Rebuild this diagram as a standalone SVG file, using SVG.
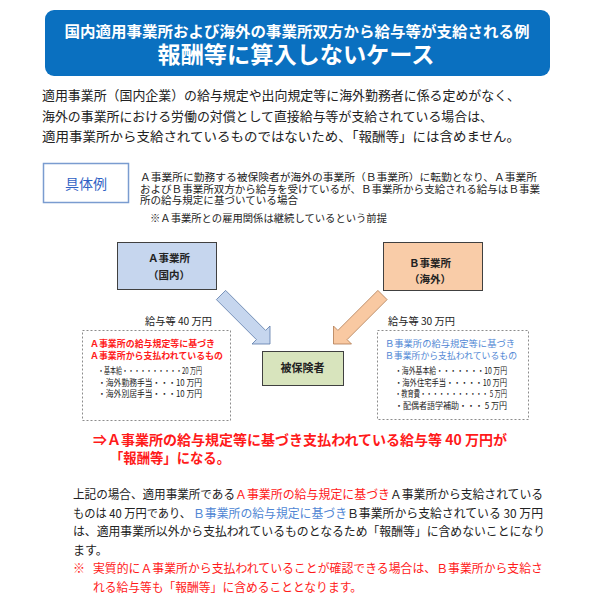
<svg xmlns="http://www.w3.org/2000/svg" width="595" height="600" viewBox="0 0 595 600">
<style>
text{font-family:"Noto Sans CJK JP","Noto Sans CJK SC",sans-serif;fill:#222}
.b{font-weight:bold}
.w{fill:#fff;font-weight:bold}
.red{fill:#ff1a1a}
.blue{fill:#4f86d4}
.box{stroke:#404040;stroke-width:1}
.dash{fill:#fff;stroke:#8c8c8c;stroke-width:1;stroke-dasharray:2 2}
.s9{font-size:8.6px}
.s10{font-size:10px}
.s12{font-size:12px}
</style>
<rect width="595" height="600" fill="#fff"/>
<g id="title">
<rect x="45" y="10" width="505" height="66" rx="9" fill="#0a70c0"/>
<text class="w" x="297" y="37" font-size="15" text-anchor="middle" textLength="465" lengthAdjust="spacingAndGlyphs">国内適用事業所および海外の事業所双方から給与等が支給される例</text>
<text class="w" x="296" y="63" font-size="23" text-anchor="middle" textLength="277" lengthAdjust="spacingAndGlyphs">報酬等に算入しないケース</text>
</g>
<g id="intro" font-size="13">
<text x="42" y="100" font-size="13" textLength="478" lengthAdjust="spacingAndGlyphs">適用事業所（国内企業）の給与規定や出向規定等に海外勤務者に係る定めがなく、</text>
<text x="42" y="121" font-size="13" textLength="451" lengthAdjust="spacingAndGlyphs">海外の事業所における労働の対償として直接給与等が支給されている場合は、</text>
<text x="42" y="141" font-size="13" textLength="478" lengthAdjust="spacingAndGlyphs">適用事業所から支給されているものではないため、「報酬等」には含めません。</text>
</g>
<g id="example">
<rect x="43.5" y="163.5" width="85" height="39" fill="#fff" stroke="#7a9cd0" stroke-width="1.5"/>
<text x="86" y="189" font-size="14" text-anchor="middle" style="fill:#2f62c4">具体例</text>
<text class="s10" x="140" y="181" textLength="397" lengthAdjust="spacingAndGlyphs">Ａ事業所に勤務する被保険者が海外の事業所（Ｂ事業所）に転勤となり、Ａ事業所</text>
<text class="s10" x="140" y="192.5" textLength="400" lengthAdjust="spacingAndGlyphs">およびＢ事業所双方から給与を受けているが、Ｂ事業所から支給される給与はＢ事業</text>
<text class="s10" x="140" y="204" textLength="158" lengthAdjust="spacingAndGlyphs">所の給与規定に基づいている場合</text>
<text class="s10" x="150" y="222" textLength="237" lengthAdjust="spacingAndGlyphs">※Ａ事業所との雇用関係は継続しているという前提</text>
</g>
<g id="connectors">
<polygon points="225.6,290.4 265.6,330.4 270,326 270,344 252,344 256.4,339.6 216.4,299.6" fill="#c6d6ee" stroke="#5a7aa8" stroke-width="0.8"/>
<polygon points="377.9,290.4 337.9,330.4 333.5,326 333.5,344 351.5,344 347.1,339.6 387.1,299.6" fill="#f9c9a2" stroke="#b07a50" stroke-width="0.8"/>
</g>
<g id="nodeA">
<rect class="box" x="117.5" y="242.5" width="99" height="47" fill="#c6d6ee"/>
<text class="b" x="169" y="262" font-size="10.5" text-anchor="middle">Ａ事業所</text>
<text class="b" x="169" y="279" font-size="10.5" text-anchor="middle">（国内）</text>
</g>
<g id="nodeB">
<rect class="box" x="383.5" y="242.5" width="99" height="48" fill="#f9cca8"/>
<text class="b" x="430" y="267" font-size="10.5" text-anchor="middle">Ｂ事業所</text>
<text class="b" x="430" y="283" font-size="10.5" text-anchor="middle">（海外）</text>
</g>
<g id="insured">
<rect class="box" x="262.5" y="351.5" width="81" height="34" fill="#d8e4bd"/>
<text class="b" x="302.5" y="372" font-size="11" text-anchor="middle">被保険者</text>
</g>
<g id="salaryA">
<text class="s10" x="145" y="325" textLength="67" lengthAdjust="spacingAndGlyphs">給与等 40 万円</text>
<rect class="dash" x="82.5" y="330.5" width="148" height="90"/>
<text class="s9 red b" x="90" y="347" textLength="125" lengthAdjust="spacingAndGlyphs">Ａ事業所の給与規定等に基づき</text>
<text class="s9 red b" x="90" y="358.5" textLength="133" lengthAdjust="spacingAndGlyphs">Ａ事業所から支払われているもの</text>
<text class="s9" x="98" y="374" textLength="104" lengthAdjust="spacingAndGlyphs">・基本給・・・・・・・・・・20 万円</text>
<text class="s9" x="98" y="385.5" textLength="104" lengthAdjust="spacingAndGlyphs">・海外勤務手当・・・10 万円</text>
<text class="s9" x="98" y="397" textLength="104" lengthAdjust="spacingAndGlyphs">・海外別居手当・・・10 万円</text>
</g>
<g id="salaryB">
<text class="s10" x="388" y="325" textLength="67" lengthAdjust="spacingAndGlyphs">給与等 30 万円</text>
<rect class="dash" x="377.5" y="330.5" width="151" height="89"/>
<text class="s9 blue" x="385" y="347" textLength="130" lengthAdjust="spacingAndGlyphs">Ｂ事業所の給与規定等に基づき</text>
<text class="s9 blue" x="385" y="358.5" textLength="132" lengthAdjust="spacingAndGlyphs">Ｂ事業所から支払われているもの</text>
<text class="s9" x="395" y="374" textLength="112" lengthAdjust="spacingAndGlyphs">・海外基本給・・・・・・・10 万円</text>
<text class="s9" x="395" y="385.5" textLength="112" lengthAdjust="spacingAndGlyphs">・海外住宅手当・・・・・10 万円</text>
<text class="s9" x="395" y="397" textLength="112" lengthAdjust="spacingAndGlyphs">・教育費・・・・・・・・・・・ 5 万円</text>
<text class="s9" x="395" y="408.5" textLength="112" lengthAdjust="spacingAndGlyphs">・配偶者語学補助・・・ 5 万円</text>
</g>
<g id="conclusion">
<text class="red b" x="93" y="445" font-size="14" textLength="414" lengthAdjust="spacingAndGlyphs">⇒Ａ事業所の給与規定等に基づき支払われている給与等 40 万円が</text>
<text class="red b" x="110" y="463" font-size="14" textLength="120" lengthAdjust="spacingAndGlyphs">「報酬等」になる。</text>
</g>
<g id="explanation" class="s12">
<text class="s12" y="499"><tspan x="73" textLength="162" lengthAdjust="spacingAndGlyphs">上記の場合、適用事業所である</tspan><tspan class="red" x="235" textLength="155" lengthAdjust="spacingAndGlyphs">Ａ事業所の給与規定に基づき</tspan><tspan x="390" textLength="153" lengthAdjust="spacingAndGlyphs">Ａ事業所から支給されている</tspan></text>
<text class="s12" y="517.5"><tspan x="73" textLength="118" lengthAdjust="spacingAndGlyphs">ものは 40 万円であり、</tspan><tspan class="blue" x="193" textLength="154" lengthAdjust="spacingAndGlyphs">Ｂ事業所の給与規定に基づき</tspan><tspan x="347" textLength="196" lengthAdjust="spacingAndGlyphs">Ｂ事業所から支給されている 30 万円</tspan></text>
<text class="s12" x="73" y="536" textLength="472" lengthAdjust="spacingAndGlyphs">は、適用事業所以外から支払われているものとなるため「報酬等」に含めないことになり</text>
<text class="s12" x="73" y="554.5">ます。</text>
<text class="s12 red" x="73" y="573">※</text>
<text class="s12 red" x="93" y="573" textLength="450" lengthAdjust="spacingAndGlyphs">実質的にＡ事業所から支払われていることが確認できる場合は、Ｂ事業所から支給さ</text>
<text class="s12 red" x="93" y="591.5" textLength="269" lengthAdjust="spacingAndGlyphs">れる給与等も「報酬等」に含めることとなります。</text>
</g>
</svg>
